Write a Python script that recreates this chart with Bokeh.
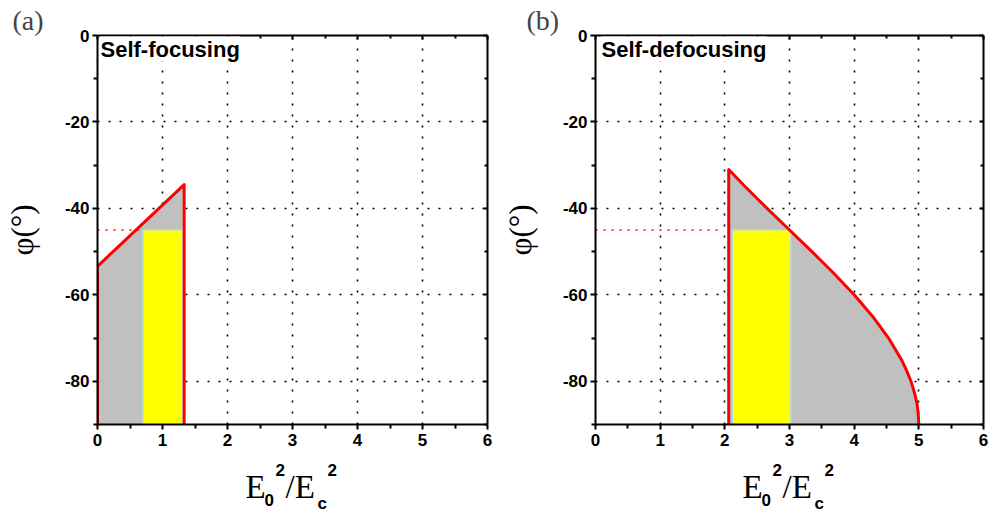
from bokeh.plotting import figure
from bokeh.layouts import row, column
from bokeh.models import Label, LinearAxis, Range1d, FixedTicker
from bokeh.embed import file_html
from bokeh.resources import INLINE

# ---------------- data ----------------
x_ticks = [0, 1, 2, 3, 4, 5, 6]
x_minor = [0.5, 1.5, 2.5, 3.5, 4.5, 5.5]
y_ticks = [0, -20, -40, -60, -80]
y_minor = [-10, -30, -50, -70, -90]
y_labels = {0: "0", -20: "-20", -40: "-40", -60: "-60", -80: "-80"}

# panel (a) self-focusing boundary
a_x = [0.0, 0.0, 1.333, 1.333]
a_y = [-90.0, -53.4, -34.5, -90.0]
a_yellow = dict(left=[0.70], right=[1.31], top=[-45.0], bottom=[-90.0])
a_dot_x = [0.0, 0.64]
a_dot_y = [-45.0, -45.0]

# panel (b) self-defocusing boundary
b_x = [2.06, 2.06, 2.316, 2.653, 3.0, 3.347, 3.684, 4.0, 4.286, 4.532, 4.732,
       4.81, 4.879, 4.93, 4.970, 4.99, 5.0]
b_y = [-90.0, -31.0, -35.0, -40.0, -45.0, -50.0, -55.0, -60.0, -65.0, -70.0, -75.0,
       -77.5, -80.0, -82.5, -85.0, -87.5, -90.0]
b_yellow = dict(left=[2.12], right=[3.02], top=[-45.0], bottom=[-90.0])
b_dot_x = [0.0, 1.95]
b_dot_y = [-45.0, -45.0]

SANS = "Liberation Sans"
SERIF = "Liberation Serif"
PH = 455  # height of the panel figures


def make_panel(tag, title, bx, by, yel, dx, dy, L, R, T, B, fig_x0):
    W = 499
    p = figure(width=W, height=PH, output_backend="svg", toolbar_location=None,
               x_range=Range1d(0, 6), y_range=Range1d(-90, 0),
               min_border_left=L - fig_x0, min_border_right=fig_x0 + W - R,
               min_border_top=T, min_border_bottom=PH - B,
               x_axis_location=None, y_axis_location=None)
    p.outline_line_color = None
    p.background_fill_color = "white"
    p.border_fill_color = "white"

    p.title.text = tag
    p.title.text_font = SERIF
    p.title.text_font_size = "28px"
    p.title.text_font_style = "normal"
    p.title.align = "left"
    p.title.offset = (fig_x0 + 12 + (14 if tag == "(b)" else 0)) - L
    p.title.standoff = 0

    xt = FixedTicker(ticks=x_ticks, minor_ticks=x_minor)
    yt = FixedTicker(ticks=y_ticks, minor_ticks=y_minor)

    def style(ax, labels):
        ax.axis_line_width = 2
        ax.axis_line_color = "black"
        ax.major_tick_line_width = 2
        ax.minor_tick_line_width = 2
        ax.major_tick_line_color = "black"
        ax.minor_tick_line_color = "black"
        if labels:
            ax.major_label_text_font = SANS
            ax.major_label_text_font_style = "bold"
            ax.major_label_text_font_size = "17px"
            ax.major_label_text_color = "black"
        else:
            ax.major_label_text_font_size = "0px"
            ax.major_label_standoff = 0

    bottom = LinearAxis(ticker=xt)
    style(bottom, True)
    bottom.major_tick_in = 0
    bottom.major_tick_out = 5
    bottom.minor_tick_in = 0
    bottom.minor_tick_out = 4
    bottom.major_label_standoff = 4
    p.add_layout(bottom, "below")

    left = LinearAxis(ticker=yt, major_label_overrides=y_labels, axis_label="φ(°)")
    style(left, True)
    left.major_tick_in = 0
    left.major_tick_out = 5
    left.minor_tick_in = 0
    left.minor_tick_out = 4
    left.major_label_standoff = 3
    left.axis_label_text_font = SERIF
    left.axis_label_text_font_size = "31px"
    left.axis_label_text_font_style = "normal"
    left.axis_label_text_color = "black"
    left.axis_label_standoff = 22
    p.add_layout(left, "left")

    top = LinearAxis(ticker=xt, major_label_overrides={t: "" for t in x_ticks})
    style(top, False)
    top.major_tick_in = 4
    top.major_tick_out = 0
    top.minor_tick_in = 3
    top.minor_tick_out = 0
    p.add_layout(top, "above")

    right = LinearAxis(ticker=yt, major_label_overrides={t: "" for t in y_ticks})
    style(right, False)
    right.major_tick_in = 4
    right.major_tick_out = 0
    right.minor_tick_in = 3
    right.minor_tick_out = 0
    p.add_layout(right, "right")

    p.xgrid.ticker = xt
    p.ygrid.ticker = yt
    for g in (p.xgrid, p.ygrid):
        g.grid_line_color = "black"
        g.grid_line_width = 1.6
        g.grid_line_dash = "2 9"

    # filled region and boundary
    p.patch(bx, by, fill_color="#c0c0c0", line_color=None)
    p.quad(left=yel["left"], right=yel["right"], top=yel["top"], bottom=yel["bottom"],
           fill_color="#ffff00", line_color="#b8dcea", line_width=1.2)
    p.line(dx, dy, line_color="red", line_width=1.6, line_dash="2 6")
    p.line(bx, by, line_color="red", line_width=3, line_join="round")

    # panel caption in the top-left corner of the frame
    px_x = 6.0 / (R - L)
    px_y = 90.0 / (B - T)
    p.add_layout(Label(x=(100 - 97 + (3 if tag == "(b)" else 0)) * px_x, y=-1 * px_y,
                       text=title, text_font=SANS, text_font_size="22px",
                       text_font_style="bold", text_baseline="top", text_align="left",
                       text_color="black", background_fill_color="white"))
    return p


pa = make_panel("(a)", "Self-focusing", a_x, a_y, a_yellow, a_dot_x, a_dot_y,
                97, 487, 35, 424, 0)
pb = make_panel("(b)", "Self-defocusing", b_x, b_y, b_yellow, b_dot_x, b_dot_y,
                594, 983, 35, 424, 499)

# strip with the x-axis titles (E0^2/Ec^2) below both panels
TH = 514 - PH
pt = figure(width=998, height=TH, output_backend="svg", toolbar_location=None,
            x_range=Range1d(0, 998), y_range=Range1d(TH, 0),
            min_border=0, min_border_left=0, min_border_right=0,
            min_border_top=0, min_border_bottom=0,
            x_axis_location=None, y_axis_location=None)
pt.title.visible = False
pt.outline_line_color = None
pt.xgrid.visible = False
pt.ygrid.visible = False
# (text, left px, top-of-line px, font, size, style)
parts = [("E", 245, 468, SERIF, "33px", "normal"),
         ("0", 264, 493, SANS, "17px", "bold"),
         ("2", 275, 463, SANS, "17px", "bold"),
         ("/E", 285, 468, SERIF, "33px", "normal"),
         ("c", 317, 493, SANS, "17px", "bold"),
         ("2", 327, 463, SANS, "17px", "bold")]
for shift in (0, 497):
    for txt, px, py, font, size, fs in parts:
        pt.add_layout(Label(x=px + shift, y=py - PH, text=txt, text_font=font,
                            text_font_size=size, text_font_style=fs,
                            text_baseline="top", text_align="left",
                            text_color="black"))

layout = column(row(pa, pb, spacing=0), pt, spacing=0)
open("out.html", "w").write(file_html(layout, INLINE))
